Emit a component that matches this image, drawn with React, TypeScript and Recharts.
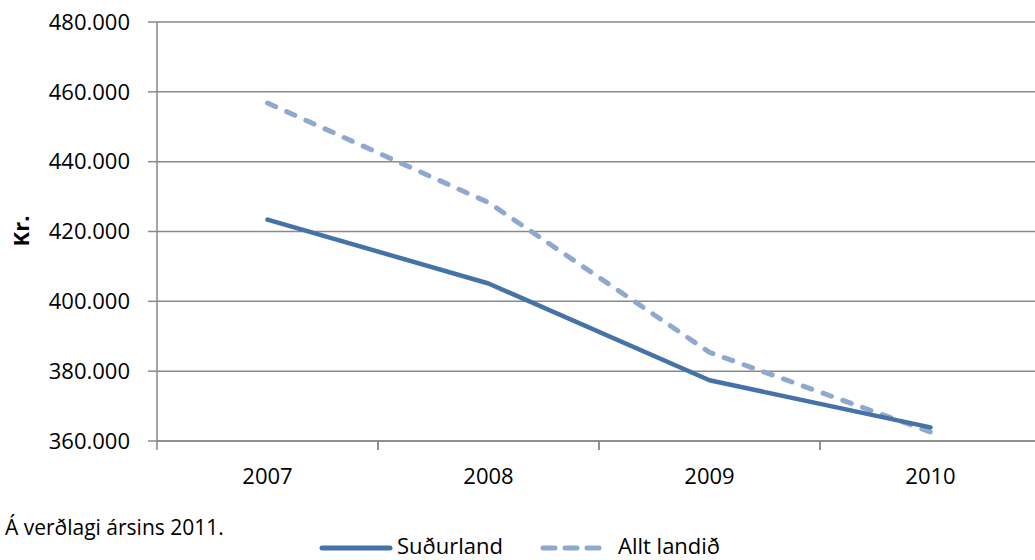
import { CartesianGrid, Label, Line, LineChart, XAxis, YAxis } from "recharts";

const years = ["2007", "2008", "2009", "2010"];
const sudurland = [423400, 405100, 377400, 363900];
const alltLandid = [456800, 428300, 385400, 362600];
const yTicks = [360000, 380000, 400000, 420000, 440000, 460000, 480000];

const data = years.map((year, i) => ({
  year,
  sudurland: sudurland[i],
  alltLandid: alltLandid[i],
}));

const FONT = "'Open Sans', sans-serif";
const GRID = "#898989";
const SOLID = "#4572A7";
const DASHED = "#8EA8CF";
const HALF_BAND = 110.5;

const formatKr = (v: number) =>
  String(v).replace(/\B(?=(\d{3})+(?!\d))/g, ".");

function YearTick(props: any) {
  const { x, y, payload } = props;
  return (
    <g>
      <line x1={x - HALF_BAND} x2={x - HALF_BAND} y1={y} y2={y + 9} stroke={GRID} strokeWidth={1.5} />
      <line x1={x + HALF_BAND} x2={x + HALF_BAND} y1={y} y2={y + 9} stroke={GRID} strokeWidth={1.5} />
      <text x={x} y={y + 43} textAnchor="middle" fontSize={22} fill="#000" fontFamily={FONT}>
        {payload.value}
      </text>
    </g>
  );
}

export default function App() {
  return (
    <div
      style={{
        position: "absolute",
        left: 0,
        top: 0,
        width: 1035,
        height: 560,
        overflow: "hidden",
        background: "#fff",
        fontFamily: FONT,
      }}
    >
      <LineChart
        width={1060}
        height={560}
        data={data}
        margin={{ top: 22, right: 19, bottom: 79, left: 0 }}
      >
        <CartesianGrid vertical={false} stroke={GRID} strokeWidth={1.5} />
        <XAxis
          dataKey="year"
          height={40}
          padding={{ left: HALF_BAND, right: HALF_BAND }}
          axisLine={{ stroke: GRID, strokeWidth: 1.5 }}
          tickLine={false}
          tickSize={0}
          tickMargin={0}
          tick={<YearTick />}
          interval={0}
        />
        <YAxis
          width={157}
          domain={[360000, 480000]}
          ticks={yTicks}
          interval={0}
          tickFormatter={formatKr}
          axisLine={{ stroke: GRID, strokeWidth: 1.5 }}
          tickLine={{ stroke: GRID, strokeWidth: 1.5 }}
          tickSize={9}
          tickMargin={18}
          tick={{ fill: "#000", fontSize: 22, fontFamily: FONT }}
        >
          <Label
            content={() => (
              <text
                x={29}
                y={231}
                transform="rotate(-90 29 231)"
                textAnchor="middle"
                fontSize={22}
                fontWeight="bold"
                fontFamily={FONT}
                fill="#000"
              >
                Kr.
              </text>
            )}
          />
        </YAxis>
        <Line
          dataKey="alltLandid"
          name="Allt landið"
          stroke={DASHED}
          strokeWidth={5}
          strokeDasharray="9 12"
          strokeLinecap="round"
          dot={false}
          activeDot={false}
          isAnimationActive={false}
        />
        <Line
          dataKey="sudurland"
          name="Suðurland"
          stroke={SOLID}
          strokeWidth={4.5}
          strokeLinecap="round"
          strokeLinejoin="round"
          dot={false}
          activeDot={false}
          isAnimationActive={false}
        />
      </LineChart>

      <svg
        width={1035}
        height={560}
        style={{ position: "absolute", left: 0, top: 0, pointerEvents: "none" }}
      >
        <text x={5} y={535} fontSize={21} fontFamily={FONT} fill="#000">
          Á verðlagi ársins 2011.
        </text>
        <line x1={322} x2={390} y1={548} y2={548} stroke={SOLID} strokeWidth={5} strokeLinecap="round" />
        <text x={397} y={554} fontSize={22} fontFamily={FONT} fill="#000">
          Suðurland
        </text>
        <line
          x1={543}
          x2={600}
          y1={548}
          y2={548}
          stroke={DASHED}
          strokeWidth={5}
          strokeDasharray="12 10"
          strokeLinecap="round"
        />
        <text x={618} y={554} fontSize={22} fontFamily={FONT} fill="#000">
          Allt landið
        </text>
      </svg>
    </div>
  );
}
